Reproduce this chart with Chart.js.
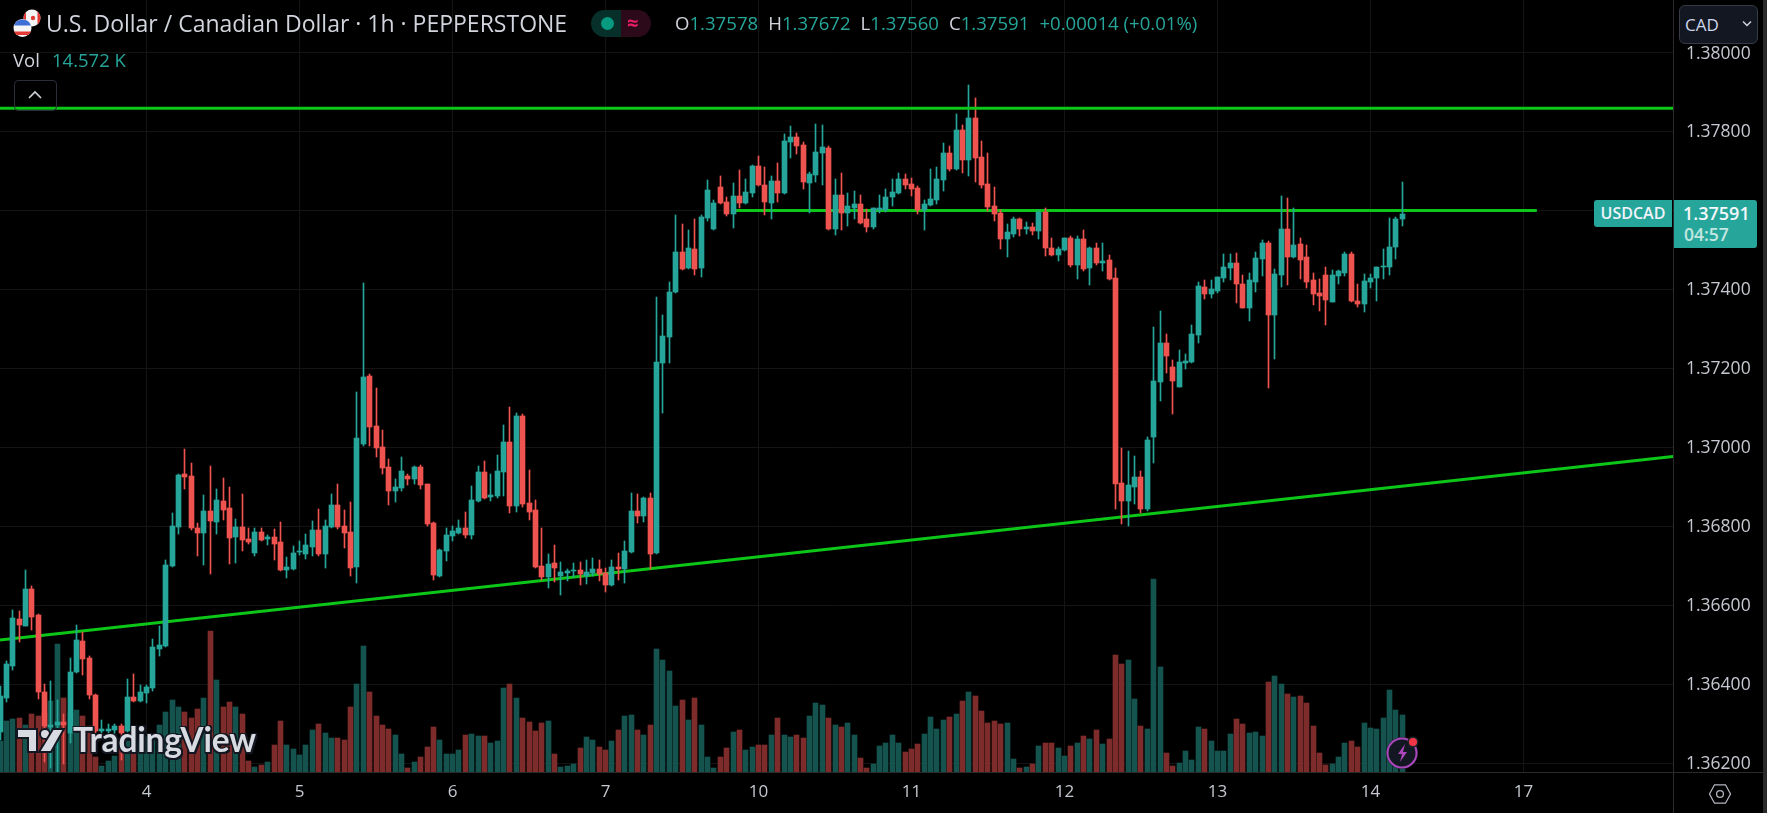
<!DOCTYPE html>
<html>
<head>
<meta charset="utf-8">
<title>USDCAD 1h</title>
<script src="https://cdn.jsdelivr.net/npm/chart.js@4"></script>
<style>
html, body { margin: 0; padding: 0; background: #000; overflow: hidden; }
#wrap { position: relative; width: 1767px; height: 813px; font-family: "Open Sans", sans-serif; color: #d1d4dc; }
#c { position: absolute; left: 0; top: 0; }
#wrap > div, #wrap > svg { position: absolute; white-space: nowrap; }
.up { color: #26a69a; }
#title { left: 46px; top: 8px; font-size: 23px; line-height: 30px; }
#volname { left: 13px; top: 48px; font-size: 18.5px; line-height: 24px; }
#volval { left: 52px; top: 48px; font-size: 18.5px; line-height: 24px; color: #26a69a; }
#ohlc { left: 675px; top: 9px; font-size: 18.6px; line-height: 28px; }
#ohlc b { font-weight: 400; margin-left: 10px; }
#ohlc b:first-child { margin-left: 0; }
#pillL { left: 591px; top: 10px; width: 30px; height: 27px; background: #07302b; border-radius: 14px 0 0 14px; }
#pillR { left: 621px; top: 10px; width: 30px; height: 27px; background: #2c0a1a; border-radius: 0 14px 14px 0; }
#pillDot { left: 601px; top: 17px; width: 13px; height: 13px; background: #089981; border-radius: 50%; }
#pillTxt { left: 627px; top: 9px; font-size: 20px; line-height: 28px; color: #e91e63; font-weight: 700; }
#collapse { left: 14px; top: 80px; width: 41px; height: 29px; border: 1px solid #2a2e39; border-radius: 4px; background: transparent; }
#cad { left: 1679px; top: 5px; width: 77px; height: 37px; background: #131722; border: 1px solid #363a45; border-radius: 6px; color: #cdd6ea; font-size: 17px; line-height: 37px; text-indent: 5px; box-sizing: content-box; }
#tagName { left: 1594px; top: 200px; width: 78px; height: 27px; background: #26a69a; border-radius: 3px 0 0 3px; color: #f0f3fa; font-size: 16px; font-weight: 600; line-height: 27px; text-align: center; }
#tagPrice { left: 1674px; top: 200px; width: 83px; height: 48px; background: #26a69a; border-radius: 0 3px 3px 0; }
#tagVal { left: 1683px; top: 200px; color: #f5f7fa; font-size: 18px; font-weight: 600; line-height: 27px; }
#tagTime { left: 1684px; top: 221px; color: #c4e6e2; font-size: 17.5px; font-weight: 600; line-height: 26px; }
#edge { left: 1763px; top: 0; width: 4px; height: 813px; background: #2a2a2a; }
#axisV { left: 1673px; top: 772px; width: 1px; height: 41px; background: #2b2b2b; }
#axisH { left: 1673px; top: 772px; width: 90px; height: 1px; background: #2b2b2b; }
#logoTxt { left: 73px; top: 720px; font-family: Lato, sans-serif; font-weight: 700; font-size: 33.5px; line-height: 38px; color: #d9dbe2; text-shadow: 2px 2px 0 #131722, -1px -1px 0 #131722, 2px -1px 0 #131722, -1px 2px 0 #131722; letter-spacing: -0.2px; }
</style>
</head>
<body>
<div id="wrap">
<canvas id="c" width="1767" height="813"></canvas>

<svg style="left:10px;top:6px" width="34" height="34" viewBox="0 0 34 34">
  <circle cx="22" cy="12" r="8.5" fill="#f5f5f5"/>
  <path d="M22 3.5a8.5 8.5 0 0 1 8.5 8.5a8.5 8.5 0 0 1-3 6.5V5.5a8.5 8.5 0 0 0-2-1.2zM16 6l0 12a8.5 8.5 0 0 1 0-12z" fill="#e53935"/>
  <circle cx="23" cy="12" r="2.2" fill="#e53935"/>
  <circle cx="12.5" cy="22" r="9" fill="#f5f5f5"/>
  <path d="M4 19.5a9 9 0 0 1 17 0z" fill="#3f6fd6"/>
  <path d="M4 25.5h17a9 9 0 0 1-3 3.5H7a9 9 0 0 1-3-3.5z" fill="#e53935"/>
</svg>
<div id="title">U.S. Dollar / Canadian Dollar · 1h · PEPPERSTONE</div>
<div id="volname">Vol</div>
<div id="volval">14.572 K</div>
<div id="pillL"></div><div id="pillR"></div><div id="pillDot"></div><div id="pillTxt">≈</div>
<div id="ohlc"><b>O<span class="up">1.37578</span></b><b>H<span class="up">1.37672</span></b><b>L<span class="up">1.37560</span></b><b>C<span class="up">1.37591</span></b><b><span class="up">+0.00014 (+0.01%)</span></b></div>
<div id="collapse"></div>
<svg style="left:27px;top:90px" width="16" height="10" viewBox="0 0 16 10"><path d="M2 8l6-6 6 6" fill="none" stroke="#d1d4dc" stroke-width="1.6"/></svg>
<div id="cad">CAD</div>
<svg style="left:1741px;top:20px" width="12" height="8" viewBox="0 0 12 8"><path d="M2 1.5l4 4 4-4" fill="none" stroke="#d1d4dc" stroke-width="1.5"/></svg>
<div id="tagName">USDCAD</div>
<div id="tagPrice"></div>
<div id="tagVal">1.37591</div>
<div id="tagTime">04:57</div>
<div id="edge"></div>
<div id="axisV"></div>
<div id="axisH"></div>

<svg style="left:15px;top:725px" width="52" height="32" viewBox="0 0 52 32">
  <path d="M2 4h20v23h-9V13H2z" fill="#d9dbe2" stroke="#131722" stroke-width="2"/>
  <circle cx="30" cy="9" r="5" fill="#d9dbe2" stroke="#131722" stroke-width="2"/>
  <path d="M38 4h11L36 27H24z" fill="#d9dbe2" stroke="#131722" stroke-width="2"/>
</svg>
<div id="logoTxt">TradingView</div>

<svg style="left:1384px;top:734px" width="38" height="38" viewBox="0 0 38 38">
  <circle cx="18" cy="19" r="16" fill="#1e222d"/>
  <circle cx="18" cy="19" r="14.5" fill="#131722" stroke="#ab47bc" stroke-width="2"/>
  <path d="M21 10l-7 10h4l-2 8 7-10h-4z" fill="#ab47bc"/>
  <circle cx="29" cy="8" r="5.5" fill="#1e222d"/>
  <circle cx="29" cy="8" r="4" fill="#f23645"/>
</svg>
<svg style="left:1708px;top:783px" width="24" height="22" viewBox="0 0 24 22"><path d="M1.5 11L6.500 1.800h11L22.500 11l-5 9.200h-11z" fill="none" stroke="#b2b5be" stroke-width="1.3"/><circle cx="12" cy="11" r="3.4" fill="none" stroke="#b2b5be" stroke-width="1.3"/></svg>
</div>

<script>
// hourly candles, one entry per bar from the left edge of the picture
var opens = [
1.36279,1.36366,1.36446,1.36565,1.36548,1.36641,1.36575,1.36381,1.36291,1.36297,
1.36305,1.36278,1.36431,1.36510,1.36467,1.36373,1.36282,1.36282,1.36285,1.36295,
1.36282,1.36368,1.36358,1.36378,1.36391,1.36490,1.36497,1.36700,1.36798,1.36932,
1.36927,1.36796,1.36783,1.36839,1.36811,1.36864,1.36846,1.36773,1.36798,1.36768,
1.36733,1.36786,1.36768,1.36773,1.36760,1.36690,1.36692,1.36735,1.36730,1.36748,
1.36791,1.36730,1.36798,1.36854,1.36801,1.36786,1.36697,1.37008,1.37181,1.37054,
1.37001,1.36950,1.36889,1.36897,1.36927,1.36920,1.36950,1.36907,1.36808,1.36674,
1.36737,1.36775,1.36783,1.36796,1.36778,1.36864,1.36937,1.36874,1.36877,1.36937,
1.37013,1.36851,1.37079,1.36859,1.36841,1.36699,1.36672,1.36707,1.36674,1.36682,
1.36687,1.36689,1.36674,1.36682,1.36692,1.36682,1.36651,1.36697,1.36692,1.36735,
1.36839,1.36826,1.36872,1.36732,1.37213,1.37279,1.37393,1.37494,1.37454,1.37502,
1.37454,1.37581,1.37553,1.37659,1.37621,1.37591,1.37636,1.37619,1.37644,1.37712,
1.37664,1.37619,1.37674,1.37644,1.37773,1.37786,1.37765,1.37669,1.37689,1.37745,
1.37758,1.37553,1.37639,1.37593,1.37606,1.37616,1.37578,1.37558,1.37601,1.37601,
1.37634,1.37644,1.37679,1.37667,1.37656,1.37601,1.37613,1.37626,1.37677,1.37745,
1.37705,1.37803,1.37727,1.37834,1.37735,1.37667,1.37611,1.37593,1.37527,1.37540,
1.37578,1.37553,1.37558,1.37548,1.37597,1.37505,1.37487,1.37499,1.37530,1.37461,
1.37527,1.37454,1.37504,1.37466,1.37474,1.37428,1.36909,1.36864,1.36899,1.36925,
1.36844,1.37026,1.37165,1.37264,1.37203,1.37153,1.37213,1.37216,1.37284,1.37406,
1.37388,1.37396,1.37428,1.37454,1.37466,1.37413,1.37353,1.37418,1.37477,1.37517,
1.37335,1.37436,1.37553,1.37482,1.37515,1.37482,1.37423,1.37391,1.37436,1.37368,
1.37434,1.37441,1.37489,1.37370,1.37363,1.37418,1.37428,1.37456,1.37456,1.37507,
1.37578];
var highs = [
1.36395,1.36459,1.36588,1.36585,1.36690,1.36649,1.36578,1.36401,1.36408,1.36360,
1.36326,1.36467,1.36550,1.36533,1.36472,1.36376,1.36310,1.36300,1.36300,1.36300,
1.36414,1.36427,1.36398,1.36398,1.36515,1.36548,1.36715,1.36834,1.36932,1.36996,
1.36960,1.36808,1.36879,1.36953,1.36894,1.36922,1.36900,1.36818,1.36882,1.36796,
1.36796,1.36796,1.36778,1.36793,1.36811,1.36722,1.36750,1.36763,1.36781,1.36813,
1.36844,1.36816,1.36882,1.36907,1.36841,1.36862,1.37140,1.37416,1.37186,1.37150,
1.37044,1.36970,1.36920,1.36975,1.36932,1.36953,1.36955,1.36907,1.36811,1.36743,
1.36796,1.36801,1.36816,1.36836,1.36902,1.36953,1.36965,1.36932,1.36981,1.37056,
1.37102,1.37087,1.37084,1.36943,1.36867,1.36796,1.36730,1.36753,1.36710,1.36692,
1.36707,1.36710,1.36715,1.36720,1.36715,1.36694,1.36715,1.36732,1.36763,1.36884,
1.36882,1.36874,1.36884,1.37381,1.37335,1.37419,1.37588,1.37565,1.37550,1.37578,
1.37588,1.37677,1.37626,1.37687,1.37634,1.37669,1.37702,1.37679,1.37715,1.37738,
1.37710,1.37687,1.37720,1.37793,1.37814,1.37796,1.37773,1.37697,1.37819,1.37816,
1.37763,1.37679,1.37694,1.37644,1.37649,1.37639,1.37603,1.37607,1.37639,1.37654,
1.37679,1.37694,1.37692,1.37682,1.37662,1.37626,1.37705,1.37710,1.37770,1.37763,
1.37844,1.37816,1.37917,1.37884,1.37775,1.37745,1.37659,1.37601,1.37565,1.37583,
1.37581,1.37570,1.37568,1.37601,1.37606,1.37530,1.37507,1.37531,1.37535,1.37535,
1.37550,1.37507,1.37517,1.37517,1.37487,1.37454,1.36998,1.36990,1.36978,1.36940,
1.37026,1.37304,1.37345,1.37287,1.37221,1.37246,1.37236,1.37310,1.37418,1.37424,
1.37423,1.37432,1.37489,1.37489,1.37492,1.37436,1.37441,1.37494,1.37525,1.37522,
1.37451,1.37636,1.37631,1.37606,1.37530,1.37512,1.37441,1.37426,1.37456,1.37449,
1.37449,1.37494,1.37494,1.37413,1.37439,1.37439,1.37457,1.37502,1.37580,1.37583,
1.37672];
var lows = [
1.36260,1.36355,1.36436,1.36507,1.36548,1.36538,1.36363,1.36203,1.36188,1.36179,
1.36198,1.36251,1.36429,1.36424,1.36363,1.36276,1.36266,1.36276,1.36272,1.36209,
1.36280,1.36355,1.36355,1.36353,1.36383,1.36472,1.36495,1.36698,1.36781,1.36894,
1.36792,1.36726,1.36702,1.36680,1.36781,1.36816,1.36705,1.36707,1.36738,1.36755,
1.36725,1.36762,1.36753,1.36715,1.36688,1.36669,1.36690,1.36727,1.36717,1.36725,
1.36725,1.36695,1.36796,1.36793,1.36745,1.36675,1.36656,1.37003,1.37003,1.36976,
1.36932,1.36854,1.36862,1.36889,1.36905,1.36907,1.36894,1.36801,1.36664,1.36672,
1.36712,1.36763,1.36781,1.36770,1.36768,1.36863,1.36869,1.36864,1.36872,1.36877,
1.36834,1.36836,1.36849,1.36816,1.36694,1.36664,1.36644,1.36659,1.36626,1.36662,
1.36672,1.36651,1.36654,1.36674,1.36662,1.36634,1.36650,1.36664,1.36656,1.36732,
1.36808,1.36811,1.36692,1.36730,1.37087,1.37213,1.37392,1.37449,1.37452,1.37436,
1.37431,1.37573,1.37551,1.37616,1.37586,1.37555,1.37606,1.37617,1.37634,1.37662,
1.37588,1.37578,1.37621,1.37641,1.37732,1.37743,1.37654,1.37593,1.37672,1.37664,
1.37550,1.37537,1.37550,1.37560,1.37578,1.37566,1.37545,1.37553,1.37593,1.37596,
1.37611,1.37642,1.37654,1.37636,1.37591,1.37550,1.37612,1.37616,1.37649,1.37700,
1.37703,1.37694,1.37687,1.37672,1.37656,1.37598,1.37573,1.37502,1.37482,1.37532,
1.37535,1.37540,1.37537,1.37527,1.37484,1.37484,1.37472,1.37498,1.37456,1.37426,
1.37446,1.37411,1.37461,1.37446,1.37425,1.36844,1.36806,1.36801,1.36856,1.36834,
1.36839,1.36960,1.37117,1.37188,1.37084,1.37152,1.37198,1.37215,1.37264,1.37375,
1.37378,1.37391,1.37418,1.37424,1.37365,1.37352,1.37320,1.37393,1.37434,1.37150,
1.37224,1.37406,1.37411,1.37479,1.37426,1.37403,1.37360,1.37345,1.37310,1.37367,
1.37413,1.37434,1.37369,1.37355,1.37343,1.37403,1.37370,1.37426,1.37436,1.37477,
1.37560];
var closes = [
1.36370,1.36451,1.36568,1.36550,1.36641,1.36570,1.36381,1.36295,1.36297,1.36305,
1.36296,1.36431,1.36512,1.36464,1.36373,1.36282,1.36288,1.36287,1.36295,1.36278,
1.36368,1.36358,1.36381,1.36393,1.36495,1.36500,1.36702,1.36801,1.36930,1.36925,
1.36796,1.36783,1.36839,1.36813,1.36867,1.36841,1.36770,1.36798,1.36765,1.36760,
1.36786,1.36765,1.36773,1.36755,1.36690,1.36697,1.36733,1.36737,1.36753,1.36791,
1.36730,1.36801,1.36854,1.36798,1.36783,1.36695,1.37024,1.37178,1.37051,1.36998,
1.36948,1.36889,1.36900,1.36940,1.36920,1.36950,1.36905,1.36806,1.36677,1.36740,
1.36778,1.36788,1.36796,1.36778,1.36867,1.36937,1.36872,1.36879,1.36940,1.37013,
1.36851,1.37079,1.36856,1.36836,1.36697,1.36672,1.36705,1.36694,1.36684,1.36687,
1.36689,1.36679,1.36684,1.36692,1.36679,1.36651,1.36697,1.36692,1.36737,1.36839,
1.36826,1.36872,1.36730,1.37216,1.37282,1.37393,1.37494,1.37451,1.37505,1.37451,
1.37583,1.37651,1.37619,1.37619,1.37591,1.37636,1.37619,1.37646,1.37712,1.37664,
1.37621,1.37674,1.37644,1.37775,1.37786,1.37763,1.37672,1.37692,1.37748,1.37760,
1.37553,1.37639,1.37593,1.37611,1.37616,1.37568,1.37558,1.37606,1.37606,1.37634,
1.37646,1.37679,1.37664,1.37654,1.37601,1.37616,1.37629,1.37679,1.37745,1.37705,
1.37803,1.37727,1.37834,1.37732,1.37664,1.37608,1.37591,1.37527,1.37545,1.37578,
1.37553,1.37558,1.37548,1.37596,1.37505,1.37487,1.37502,1.37530,1.37461,1.37527,
1.37451,1.37504,1.37466,1.37472,1.37426,1.36907,1.36864,1.36904,1.36925,1.36844,
1.37018,1.37168,1.37264,1.37231,1.37168,1.37216,1.37218,1.37287,1.37408,1.37388,
1.37401,1.37431,1.37456,1.37466,1.37413,1.37353,1.37423,1.37479,1.37517,1.37335,
1.37439,1.37553,1.37482,1.37512,1.37474,1.37418,1.37388,1.37383,1.37373,1.37436,
1.37446,1.37489,1.37370,1.37363,1.37421,1.37428,1.37456,1.37459,1.37507,1.37578,
1.37591];
// volume in thousands
var volumes = [
8.0,13.1,13.6,13.9,12.0,14.9,14.2,15.0,18.2,32.8,
19.0,15.0,15.9,14.4,11.7,3.9,1.6,2.9,4.2,8.5,
8.0,8.0,8.0,9.0,9.0,12.1,15.4,18.5,16.5,15.4,
13.9,16.2,19.0,36.1,23.4,16.7,18.0,16.7,14.9,2.9,
1.4,1.9,2.6,7.0,13.1,7.0,6.0,4.4,7.0,10.8,
12.4,10.1,8.8,8.8,8.3,16.7,22.6,32.3,20.5,14.4,
12.1,11.1,9.5,4.7,1.1,2.6,3.9,6.5,11.6,8.3,
4.7,4.7,5.7,9.5,9.8,9.3,9.3,7.5,7.8,21.6,
22.6,19.0,13.9,12.9,10.6,12.6,13.1,4.7,1.4,1.6,
2.1,6.2,9.0,8.3,6.5,5.7,7.8,10.8,14.2,14.7,
10.8,9.5,12.1,31.5,28.7,25.7,17.0,18.5,13.4,18.8,
11.9,3.9,0.9,3.9,6.2,10.3,10.8,5.7,6.5,7.0,
7.0,9.5,13.9,9.5,9.0,9.5,8.8,14.4,17.7,17.2,
13.9,11.9,11.6,12.6,9.5,3.7,1.1,2.1,6.7,7.5,
9.5,7.5,5.1,5.9,7.2,9.7,14.1,11.0,13.3,14.1,
14.8,18.2,20.5,19.4,15.6,12.5,13.0,12.3,12.5,3.3,
1.0,1.3,2.0,6.6,7.4,7.4,6.1,4.1,6.6,7.4,
9.2,8.4,10.7,7.2,8.4,29.9,27.6,28.6,18.7,11.8,
11.0,49.4,26.9,4.9,1.5,2.3,5.4,3.1,11.5,11.0,
7.9,5.4,5.4,9.7,13.6,12.3,10.0,10.2,9.2,23.0,
24.6,22.5,19.9,19.2,19.4,17.6,11.8,4.9,1.8,2.0,
3.8,7.4,7.9,6.4,12.5,11.3,11.0,13.8,21.0,15.9,
14.572];

var priceTicks = [1.362,1.364,1.366,1.368,1.37,1.372,1.374,1.376,1.378,1.38];
var dayTicks = [23,47,71,95,119,143,167,191,215,239];
var dayLabels = ["4","5","6","7","10","11","12","13","14","17"];

// the three drawn lines, x is the bar number
var topLineX = [0,262.47];
var topLineY = [1.37859,1.37859];
var midLineX = [115,241.1];
var midLineY = [1.37600,1.37600];
var riseLineX = [0,262.47];
var riseLineY = [1.36512,1.36977];

var upColor = "#26a69a";
var downColor = "#ef5350";
var upVol = "#15544e";
var downVol = "#7d2b2b";
var lineColor = "#0cc618";
var gridColor = "#141414";
var axisColor = "#2b2b2b";
var textColor = "#c5c8d0";

function pairs(xs, ys) {
    var out = [];
    for (var i = 0; i < xs.length; i++) out.push({x: xs[i], y: ys[i]});
    return out;
}

var wicks = [], bodies = [], vols = [], barColors = [], volColors = [];
for (var i = 0; i < opens.length; i++) {
    var up = closes[i] >= opens[i];
    wicks.push({x: i, y: [lows[i], highs[i]]});
    bodies.push({x: i, y: [Math.min(opens[i], closes[i]), Math.max(opens[i], closes[i])]});
    vols.push({x: i, y: volumes[i]});
    barColors.push(up ? upColor : downColor);
    volColors.push(up ? upVol : downVol);
}

// keeps wicks and bodies on whole pixels, the way the trading chart draws them
var snapBars = {
    id: "snapBars",
    afterDatasetsUpdate: function(chart) {
        chart.data.datasets.forEach(function(ds, n) {
            if (ds.type !== "bar") return;
            chart.getDatasetMeta(n).data.forEach(function(el) {
                el.x = Math.floor(el.x) + 0.5;
                el.y = Math.round(el.y);
                el.base = Math.round(el.base);
                if (el.y === el.base) el.base = el.y + 1;
            });
        });
    }
};

function lineSet(label, xs, ys, order) {
    return {type: "line", label: label, data: pairs(xs, ys), borderColor: lineColor, borderWidth: 3,
            pointRadius: 0, fill: false, order: order, xAxisID: "x", yAxisID: "price"};
}

new Chart(document.getElementById("c"), {
    type: "bar",
    data: {
        datasets: [
            lineSet("top", topLineX, topLineY, 0),
            {type: "bar", label: "body", data: bodies, backgroundColor: barColors, barThickness: 5, grouped: false, order: 1, xAxisID: "x", yAxisID: "price"},
            {type: "bar", label: "wick", data: wicks, backgroundColor: barColors, barThickness: 1, grouped: false, order: 2, xAxisID: "x", yAxisID: "price"},
            lineSet("mid", midLineX, midLineY, 3),
            lineSet("rise", riseLineX, riseLineY, 3),
            {type: "bar", label: "Vol", data: vols, backgroundColor: volColors, barThickness: 5, grouped: false, order: 4, xAxisID: "x", yAxisID: "vol"}
        ]
    },
    plugins: [snapBars],
    options: {
        responsive: false,
        animation: false,
        layout: {padding: 0},
        plugins: {legend: {display: false}, tooltip: {enabled: false}},
        scales: {
            x: {
                type: "linear", min: 0, max: 262.47, offset: false,
                grid: {color: gridColor, drawTicks: false, offset: false},
                border: {color: axisColor},
                afterBuildTicks: function(axis) {
                    axis.ticks = dayTicks.map(function(v) { return {value: v}; });
                },
                afterFit: function(axis) {
                    axis.height = 41;
                    axis.paddingLeft = 0;
                    axis.paddingRight = 0;
                },
                ticks: {
                    autoSkip: false, maxRotation: 0, padding: 10, color: textColor,
                    font: {family: "'Open Sans'", size: 17},
                    callback: function(v) { return dayLabels[dayTicks.indexOf(v)]; }
                }
            },
            price: {
                type: "linear", position: "right", min: 1.36178, max: 1.38133,
                grid: {color: gridColor, drawTicks: false},
                border: {color: axisColor},
                afterBuildTicks: function(axis) {
                    axis.ticks = priceTicks.map(function(v) { return {value: v}; });
                },
                afterFit: function(axis) {
                    axis.width = 94;
                    axis.paddingTop = 0;
                    axis.paddingBottom = 0;
                },
                ticks: {
                    padding: 13, labelOffset: 1, color: textColor,
                    font: {family: "'Open Sans'", size: 17.5},
                    callback: function(v) { return v.toFixed(5); }
                }
            },
            vol: {type: "linear", display: false, min: 0, max: 197.4}
        }
    }
});
</script>
</body>
</html>
